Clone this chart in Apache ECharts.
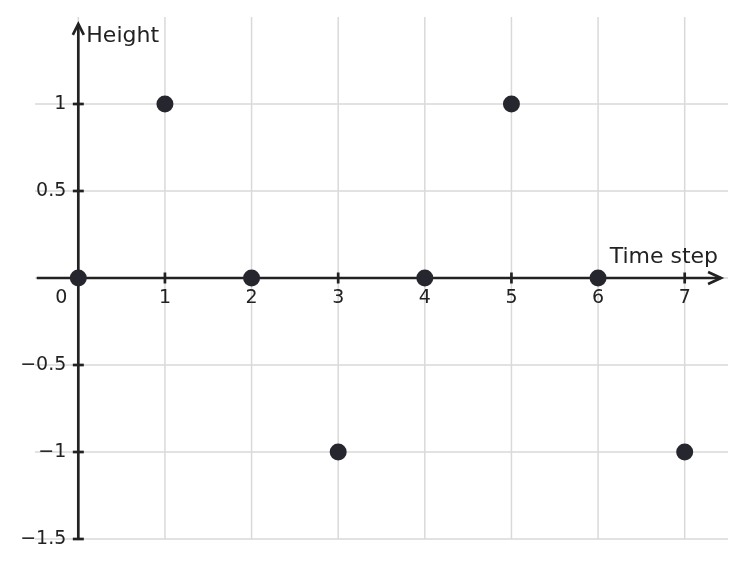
<!DOCTYPE html>
<html>
<head>
<meta charset="utf-8">
<script src="https://cdn.jsdelivr.net/npm/echarts@6/dist/echarts.min.js"></script>
<style>
html,body{margin:0;padding:0;background:#fff;}
#chart{width:747px;height:567px;}
</style>
</head>
<body>
<div id="chart"></div>
<script>
// Data
const timeSteps = [0, 1, 2, 3, 4, 5, 6, 7];
const heights = [0, 1, 0, -1, 0, 1, 0, -1];
const xTickValues = [1, 2, 3, 4, 5, 6, 7];
const xTickLabels = ['1', '2', '3', '4', '5', '6', '7'];
const yTickValues = [-1.5, -1, -0.5, 0.5, 1];
const yTickLabels = ['\u22121.5', '\u22121', '\u22120.5', '0.5', '1'];
const xGridValues = [0, 1, 2, 3, 4, 5, 6, 7];
const xRange = [-0.5, 7.5];
const yRange = [-1.5, 1.5];
const xAxisLineSpan = [-0.48, 7.42];
const yAxisLineSpan = [-1.5, 1.46];
const xAxisName = 'Time step';
const yAxisName = 'Height';
const originLabel = '0';

const AXIS_COLOR = '#222222';
const TEXT_COLOR = '#222222';
const DOT_COLOR = '#26262e';
const GRID_COLOR = '#d9d9d9';
const FONT = 'DejaVu Sans';
const TICK_FONT = 19;
const NAME_FONT = 22;

const chart = echarts.init(document.getElementById('chart'), null, {renderer: 'canvas'});

const axesRender = function (params, api) {
  const children = [];
  const lw = 2.7;
  const style = {stroke: AXIS_COLOR, lineWidth: lw, fill: 'none', lineCap: 'butt', lineJoin: 'miter'};
  const gridStyle = {stroke: GRID_COLOR, lineWidth: 1.5, fill: 'none'};
  // vertical grid lines
  xGridValues.forEach(function (v) {
    const a = api.coord([v, yRange[0]]);
    const b = api.coord([v, yRange[1]]);
    children.push({type: 'line', shape: {x1: a[0], y1: a[1], x2: b[0], y2: b[1]}, style: gridStyle});
  });
  // x axis line
  const xa = api.coord([xAxisLineSpan[0], 0]);
  const xb = api.coord([xAxisLineSpan[1], 0]);
  children.push({type: 'line', shape: {x1: xa[0], y1: xa[1], x2: xb[0], y2: xb[1]}, style: style});
  children.push({type: 'polyline', shape: {points: [[xb[0] - 13, xb[1] - 6], [xb[0], xb[1]], [xb[0] - 13, xb[1] + 6]]}, style: style});
  // y axis line
  const ya = api.coord([0, yAxisLineSpan[0]]);
  const yb = api.coord([0, yAxisLineSpan[1]]);
  children.push({type: 'line', shape: {x1: ya[0], y1: ya[1], x2: yb[0], y2: yb[1]}, style: style});
  children.push({type: 'polyline', shape: {points: [[yb[0] - 5.5, yb[1] + 11], [yb[0], yb[1]], [yb[0] + 5.5, yb[1] + 11]]}, style: style});
  // ticks crossing the axes + labels
  xTickValues.forEach(function (v, i) {
    const p = api.coord([v, 0]);
    children.push({type: 'line', shape: {x1: p[0], y1: p[1] - 5.5, x2: p[0], y2: p[1] + 5.5}, style: style});
    children.push({type: 'text', x: p[0], y: p[1] + 11, style: {text: xTickLabels[i], fill: TEXT_COLOR, fontFamily: FONT, fontSize: TICK_FONT, align: 'center', verticalAlign: 'top'}});
  });
  yTickValues.forEach(function (v, i) {
    const p = api.coord([0, v]);
    children.push({type: 'line', shape: {x1: p[0] - 5.5, y1: p[1], x2: p[0] + 5.5, y2: p[1]}, style: style});
    children.push({type: 'text', x: p[0] - 12, y: p[1], style: {text: yTickLabels[i], fill: TEXT_COLOR, fontFamily: FONT, fontSize: TICK_FONT, align: 'right', verticalAlign: 'middle'}});
  });
  // origin label
  const o = api.coord([0, 0]);
  children.push({type: 'text', x: o[0] - 17, y: o[1] + 11, style: {text: originLabel, fill: TEXT_COLOR, fontFamily: FONT, fontSize: TICK_FONT, align: 'center', verticalAlign: 'top'}});
  // axis names
  children.push({type: 'text', x: xb[0] - 3, y: xb[1] - 21, style: {text: xAxisName, fill: TEXT_COLOR, fontFamily: FONT, fontSize: NAME_FONT, align: 'right', verticalAlign: 'middle'}});
  children.push({type: 'text', x: yb[0] + 8, y: yb[1] + 12, style: {text: yAxisName, fill: TEXT_COLOR, fontFamily: FONT, fontSize: NAME_FONT, align: 'left', verticalAlign: 'middle'}});
  return {type: 'group', children: children};
};

const option = {
  backgroundColor: '#ffffff',
  animation: false,
  grid: {left: 35, right: 19, top: 17, bottom: 28, containLabel: false, outerBoundsMode: 'none'},
  xAxis: {
    type: 'value',
    min: xRange[0],
    max: xRange[1],
    axisLine: {show: false},
    axisTick: {show: false},
    axisLabel: {show: false},
    splitLine: {show: false}
  },
  yAxis: {
    type: 'value',
    min: yRange[0],
    max: yRange[1],
    interval: 0.5,
    axisLine: {show: false},
    axisTick: {show: false},
    axisLabel: {show: false},
    splitLine: {show: true, showMaxLine: false, lineStyle: {color: GRID_COLOR, width: 1.5}}
  },
  series: [
    {
      type: 'custom',
      coordinateSystem: 'cartesian2d',
      renderItem: axesRender,
      data: [[0, 0]],
      silent: true,
      z: 3,
      clip: false
    },
    {
      type: 'scatter',
      data: timeSteps.map(function (t, i) { return [t, heights[i]]; }),
      symbol: 'circle',
      symbolSize: 17,
      itemStyle: {color: DOT_COLOR, opacity: 1},
      z: 5
    }
  ]
};

chart.setOption(option);
</script>
</body>
</html>
